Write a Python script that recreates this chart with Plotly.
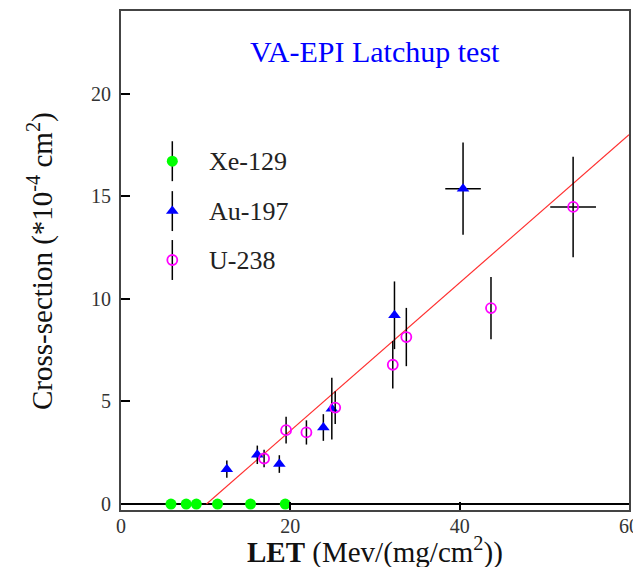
import plotly.graph_objects as go

# Xe-129 points (all on zero)
xe_let = [5.9, 7.7, 8.9, 11.4, 15.3, 19.4]
xe_cs = [0, 0, 0, 0, 0, 0]

# Au-197 points
au_let = [12.5, 16.1, 18.7, 23.9, 24.9, 32.3, 40.4]
au_cs = [1.7, 2.4, 1.95, 3.73, 4.65, 9.2, 15.37]
au_err = [0.42, 0.45, 0.43, 0.65, 1.5, 1.65, 2.25]
au_xerr = [0, 0, 0, 0, 0, 0, 2.1]

# U-238 points
u_let = [16.9, 19.5, 21.9, 25.3, 32.1, 33.7, 43.7, 53.4]
u_cs = [2.22, 3.6, 3.49, 4.7, 6.79, 8.14, 9.55, 14.48]
u_err = [0.43, 0.65, 0.59, 0.8, 1.16, 1.42, 1.52, 2.45]
u_xerr = [0, 0, 0, 0, 0, 0, 0, 2.7]

# linear fit
fit_let = [10.1, 60]
fit_cs = [0, 18.0]

series_names = ["Xe-129", "Au-197", "U-238"]

FONT = "Liberation Serif"

fig = go.Figure()

fig.add_trace(go.Scatter(x=fit_let, y=fit_cs, mode="lines",
                         line=dict(color="#ff3030", width=1.2), showlegend=False))

fig.add_trace(go.Scatter(x=xe_let, y=xe_cs, mode="markers", name=series_names[0],
                         marker=dict(symbol="circle", size=11, color="#00ff00"),
                         showlegend=False))

fig.add_trace(go.Scatter(x=au_let, y=au_cs, mode="markers", name=series_names[1],
                         marker=dict(symbol="triangle-up", size=11, color="#0000ff"),
                         error_y=dict(type="data", array=au_err, color="black", thickness=1.5, width=0),
                         error_x=dict(type="data", array=au_xerr, color="black", thickness=1.5, width=0),
                         showlegend=False))

fig.add_trace(go.Scatter(x=u_let, y=u_cs, mode="markers", name=series_names[2],
                         marker=dict(symbol="circle-open", size=10, color="#ff00ff",
                                     line=dict(width=1.8, color="#ff00ff")),
                         error_y=dict(type="data", array=u_err, color="black", thickness=1.5, width=0),
                         error_x=dict(type="data", array=u_xerr, color="black", thickness=1.5, width=0),
                         showlegend=False))

# hand-made legend keys on an overlay axis (paper-like 0..1)
key_x = 0.101
key_y = [0.699, 0.599, 0.501]
key_markers = [
    dict(symbol="circle", size=11, color="#00ff00"),
    dict(symbol="triangle-up", size=11, color="#0000ff"),
    dict(symbol="circle-open", size=10, color="#ff00ff", line=dict(width=1.8, color="#ff00ff")),
]
for name, ky, mk in zip(series_names, key_y, key_markers):
    fig.add_trace(go.Scatter(x=[key_x], y=[ky], mode="markers", marker=mk,
                             error_y=dict(type="constant", value=0.04, color="black",
                                          thickness=1.5, width=0),
                             xaxis="x2", yaxis="y2", showlegend=False))
    fig.add_annotation(x=0.17, y=ky, xref="paper", yref="paper", text=name,
                       showarrow=False, xanchor="left", yanchor="middle",
                       font=dict(family=FONT, size=26, color="#222"))

fig.add_annotation(x=0.5, y=0.918, xref="paper", yref="paper", text="VA-EPI Latchup test",
                   showarrow=False, xanchor="center", yanchor="middle",
                   font=dict(family=FONT, size=30, color="#0000ff"))

# axis titles as annotations for exact placement
fig.add_annotation(x=0.5, y=-0.082, xref="paper", yref="paper",
                   text="<b>LET</b> (Mev/(mg/cm<sup>2</sup>))",
                   showarrow=False, xanchor="center", yanchor="middle",
                   font=dict(family=FONT, size=29, color="#111"))
fig.add_annotation(x=-0.1585, y=0.5, xref="paper", yref="paper",
                   text="Cross-section (*10<sup>-4</sup> cm<sup>2</sup>)", textangle=-90,
                   showarrow=False, xanchor="center", yanchor="middle",
                   font=dict(family=FONT, size=29, color="#111"))

# page body has an 8px margin, so the figure is shrunk and margins trimmed to match
fig.update_layout(
    width=633, height=559,
    margin=dict(l=113, r=12, t=3, b=57),
    plot_bgcolor="white", paper_bgcolor="white",
    font=dict(family=FONT, color="#222"),
    xaxis=dict(range=[0, 60], tickvals=[0, 20, 40, 60], ticks="inside", ticklen=8,
               tickwidth=1.5, tickcolor="black", showline=True, linecolor="#444",
               linewidth=2, mirror=True, showgrid=False, zeroline=False, automargin=False,
               ticklabelstandoff=-3, ticklabeloverflow="allow",
               tickfont=dict(size=20, color="#333")),
    yaxis=dict(range=[-0.29, 24.03], tickvals=[0, 5, 10, 15, 20], ticks="inside", ticklen=9,
               tickwidth=1.5, tickcolor="black", showline=True, linecolor="#444",
               linewidth=2, mirror=True, showgrid=False, zeroline=True, automargin=False,
               zerolinecolor="black", zerolinewidth=1.5, ticklabelstandoff=4,
               tickfont=dict(size=20, color="#333")),
    xaxis2=dict(overlaying="x", range=[0, 1], visible=False, anchor="y2"),
    yaxis2=dict(overlaying="y", range=[0, 1], visible=False, anchor="x2"),
)

fig.write_html("out.html")
